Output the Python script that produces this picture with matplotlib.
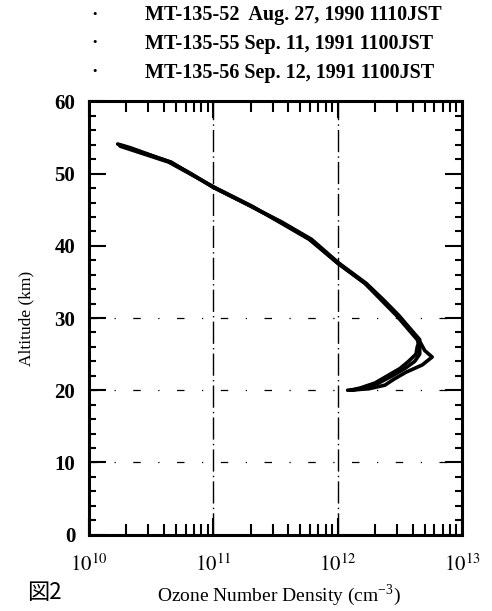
import matplotlib.pyplot as plt
import numpy as np

plt.rcParams['font.family'] = ['Liberation Serif', 'DejaVu Serif']
plt.rcParams['mathtext.fontset'] = 'stix'

# soundings: altitude (km) vs log10 ozone number density (cm^-3)
labels = ['MT-135-52  Aug. 27, 1990 1110JST',
          'MT-135-55 Sep. 11, 1991 1100JST',
          'MT-135-56 Sep. 12, 1991 1100JST']

alt_52 = [54.1, 53.6, 51.6, 50.0, 48.1, 45.5, 43.3, 40.9, 37.6, 34.8, 32.5, 30.4, 28.0, 27.1,
          25.5, 24.6, 23.5, 22.5, 21.5, 20.7, 20.2, 20.0]
log_52 = [10.23, 10.33, 10.65, 10.82, 11.00, 11.30, 11.54, 11.78, 12.00, 12.22, 12.36, 12.48, 12.60, 12.65,
          12.70, 12.76, 12.68, 12.55, 12.45, 12.38, 12.25, 12.08]

alt_55 = [54.0, 51.6, 48.1, 45.5, 43.3, 40.9, 37.6, 34.8, 32.5, 30.4, 28.0, 27.0,
          26.0, 25.0, 24.0, 23.0, 22.0, 21.0, 20.3, 20.0]
log_55 = [10.24, 10.66, 11.00, 11.30, 11.55, 11.79, 12.01, 12.23, 12.37, 12.49, 12.61, 12.66,
          12.64, 12.63, 12.57, 12.50, 12.40, 12.30, 12.18, 12.10]

alt_56 = [53.8, 51.6, 48.1, 45.5, 43.3, 40.9, 37.6, 34.8, 32.5, 30.4, 28.0, 27.0,
          26.0, 25.0, 24.0, 23.0, 22.0, 21.0, 20.3, 20.0]
log_56 = [10.25, 10.64, 11.01, 11.31, 11.53, 11.77, 12.00, 12.22, 12.35, 12.47, 12.59, 12.64,
          12.66, 12.66, 12.62, 12.54, 12.44, 12.33, 12.20, 12.12]

fig = plt.figure(figsize=(4.92, 6.11), dpi=100)
ax = fig.add_axes([0.181, 0.125, 0.758, 0.709])

for a, l in [(alt_52, log_52), (alt_55, log_55), (alt_56, log_56)]:
    ax.plot(10 ** np.array(l), a, color='black', lw=2.6, solid_capstyle='round',
            solid_joinstyle='round')

ax.set_xscale('log')
ax.set_xlim(1e10, 1e13)
ax.set_ylim(0, 60)

# faint dash-dot grid lines
for xv in [1e11, 1e12]:
    ax.axvline(xv, color='black', lw=1.0, ls=(0, (16, 3, 1, 3)), zorder=0)
for yv in [10, 20, 30]:
    ax.axhline(yv, color='black', lw=0.9, ls=(0, (6, 14, 1, 14)), zorder=0)

ax.set_yticks(range(0, 61, 10))
ax.set_yticks(range(0, 61, 2), minor=True)
ax.set_xticks([1e10, 1e11, 1e12, 1e13])
ax.set_xticklabels(['$10^{10}$', '$10^{11}$', '$10^{12}$', '$10^{13}$'])

ax.tick_params(which='both', direction='in', top=True, right=True, width=1.5, color='black')
ax.tick_params(axis='y', which='major', length=12, labelsize=15, pad=10)
ax.tick_params(axis='y', which='minor', length=5)
ax.tick_params(axis='x', which='major', length=12, labelsize=15, pad=14)
ax.tick_params(axis='x', which='minor', length=8)
for t in ax.get_yticklabels():
    t.set_fontweight('bold')
for s in ax.spines.values():
    s.set_linewidth(2.2)

ax.set_ylabel('Altitude (km)', fontsize=12.5, labelpad=14)
ax.set_xlabel('Ozone Number Density (cm$^{\\mathregular{-3}}$)', fontsize=14)
ax.xaxis.set_label_coords(0.51, -0.11)

# legend entries as text lines above the plot
for i, lab in enumerate(labels):
    y = 0.975 - i * 0.047
    fig.text(0.193, y, '\u00b7', fontsize=14, fontweight='bold', va='center', ha='center')
    fig.text(0.295, y, lab, fontsize=14.5, fontweight='bold', va='center', ha='left')

fig.text(0.055, 0.03, '図2', fontsize=16, family=['Noto Sans CJK JP', 'DejaVu Sans'], va='center')

fig.savefig('out.png', dpi=100)
